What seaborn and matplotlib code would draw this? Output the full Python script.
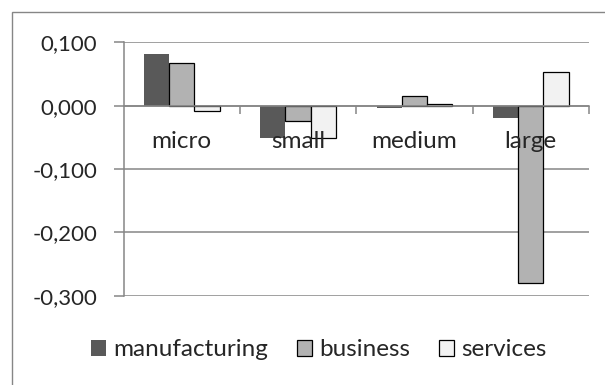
import matplotlib
matplotlib.use("Agg")
import matplotlib.pyplot as plt
import matplotlib.patches as mpatches
from matplotlib.ticker import FuncFormatter, FixedLocator
import seaborn as sns
import pandas as pd

# Firm-size categories and sector differences
sizes = ["micro", "small", "medium", "large"]
sectors = ["manufacturing", "business", "services"]
manufacturing = [0.082, -0.051, -0.003, -0.019]
business = [0.067, -0.024, 0.016, -0.280]
services = [-0.009, -0.051, 0.003, 0.053]
yticks = [0.1, 0.0, -0.1, -0.2, -0.3]

face = {"manufacturing": "#595959", "business": "#b2b2b2", "services": "#f2f2f2"}
edge = {"manufacturing": "none", "business": "black", "services": "black"}
grid_col = "#868686"

rows = []
for sec, vals in zip(sectors, [manufacturing, business, services]):
    for s, v in zip(sizes, vals):
        rows.append({"size": s, "sector": sec, "value": v})
df = pd.DataFrame(rows)

sns.set_style("white")
plt.rcParams["font.family"] = ["Lato", "DejaVu Sans"]

fig = plt.figure(figsize=(6.05, 3.85), dpi=100)
ax = fig.add_axes([123.5 / 605, 1 - 295.7 / 385, (589 - 123.5) / 605, (295.7 - 42.3) / 385])

sns.barplot(data=df, x="size", y="value", hue="sector", order=sizes,
            hue_order=sectors, palette=face, width=0.65, gap=0,
            errorbar=None, ax=ax, legend=False)

for cont, sec in zip(ax.containers, sectors):
    for bar in cont:
        bar.set_facecolor(face[sec])
        bar.set_edgecolor(edge[sec])
        bar.set_linewidth(0.9)
        bar.set_zorder(1)

ax.set_xlim(-0.5, len(sizes) - 0.5)
ax.set_ylim(min(yticks), max(yticks))
ax.set_xlabel("")
ax.set_ylabel("")

# horizontal gridlines behind the bars
for t in yticks:
    ax.axhline(t, color=grid_col, lw=1.1, zorder=0.5)

for side in ["top", "right"]:
    ax.spines[side].set_visible(False)
ax.spines["left"].set_color(grid_col)
ax.spines["left"].set_linewidth(1.1)
ax.spines["bottom"].set_position(("data", 0))
ax.spines["bottom"].set_color(grid_col)
ax.spines["bottom"].set_linewidth(1.1)
ax.xaxis.set_zorder(5)

ax.yaxis.set_major_locator(FixedLocator(yticks))
ax.yaxis.set_major_formatter(FuncFormatter(lambda v, p: f"{v:.3f}".replace(".", ",")))
ax.tick_params(axis="y", length=7, width=1.1, color=grid_col, labelsize=16, pad=12, left=True)

ax.xaxis.set_minor_locator(FixedLocator([i + 0.5 for i in range(len(sizes))]))
ax.tick_params(axis="x", which="major", length=0, labelsize=17.5, pad=18.5)
ax.tick_params(axis="x", which="minor", length=6, width=1.1, color=grid_col, direction="out", bottom=True)

handles = [mpatches.Patch(facecolor=face[s], edgecolor=edge[s], linewidth=0.9, label=s)
           for s in sectors]
fig.legend(handles=handles, loc="center", bbox_to_anchor=(319 / 605, 1 - 350 / 385),
           ncol=3, frameon=False, fontsize=17.5, handlelength=0.6, handleheight=0.6,
           handletextpad=0.3, columnspacing=1.2, borderaxespad=0)

# outer chart frame
fig.patches.append(mpatches.Rectangle((11.6 / 605, -0.2), 2, 1.2 - 12.3 / 385,
                                      transform=fig.transFigure, fill=False,
                                      edgecolor=grid_col, lw=1.0))

fig.savefig("out.png", dpi=100)
